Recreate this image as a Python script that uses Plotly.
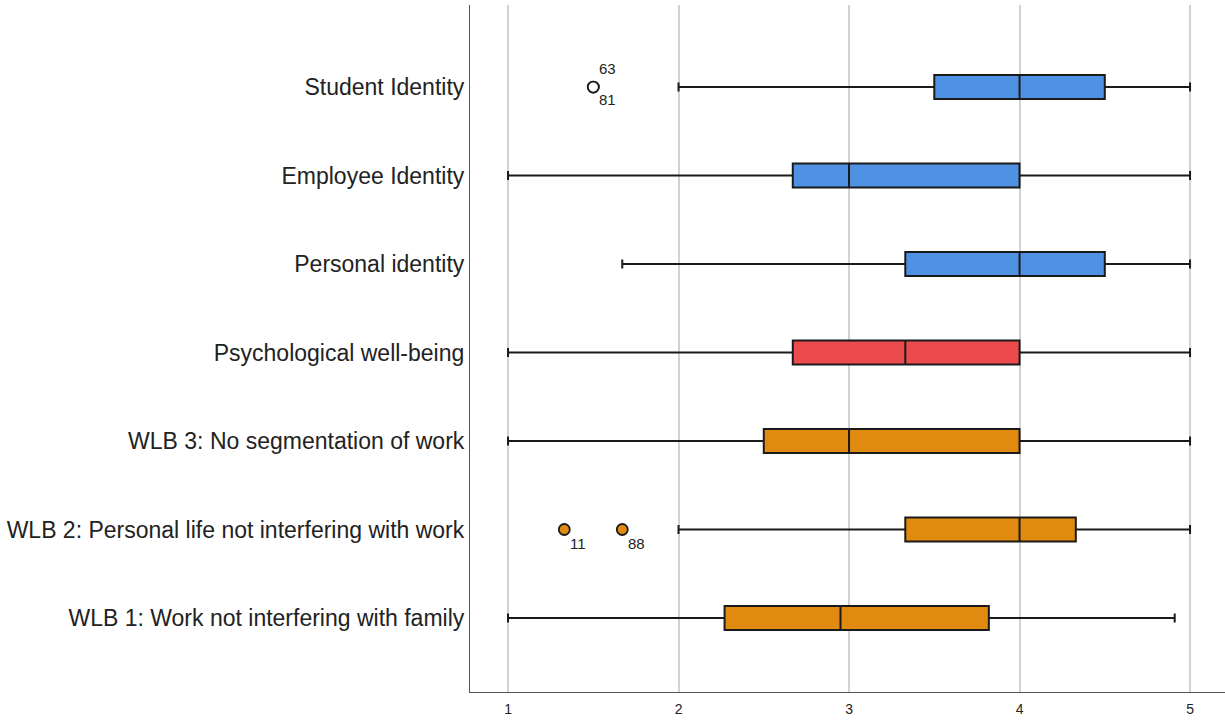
import plotly.graph_objects as go

categories = [
    "WLB 1: Work not interfering with family",
    "WLB 2: Personal life not interfering with work",
    "WLB 3: No segmentation of work",
    "Psychological well-being",
    "Personal identity",
    "Employee Identity",
    "Student Identity",
]
lower = [1.0, 2.0, 1.0, 1.0, 1.67, 1.0, 2.0]
q1 = [2.27, 3.33, 2.5, 2.67, 3.33, 2.67, 3.5]
median = [2.95, 4.0, 3.0, 3.33, 4.0, 3.0, 4.0]
q3 = [3.82, 4.33, 4.0, 4.0, 4.5, 4.0, 4.5]
upper = [4.91, 5.0, 5.0, 5.0, 5.0, 5.0, 5.0]
colors = ["#E08B10", "#E08B10", "#E08B10", "#EB4B4C", "#4F92E4", "#4F92E4", "#4F92E4"]

# outliers: category, value, case label
outlier_cat = ["Student Identity", "Student Identity",
               "WLB 2: Personal life not interfering with work",
               "WLB 2: Personal life not interfering with work"]
outlier_val = [1.5, 1.5, 1.33, 1.67]
outlier_lab = ["63", "81", "11", "88"]
outlier_dy = [19, -12, -14, -14]
outlier_fill = ["white", "white", "#E08B10", "#E08B10"]

tick_vals = [1, 2, 3, 4, 5]

fig = go.Figure()
for i, c in enumerate(categories):
    fig.add_trace(go.Box(
        y=[c], q1=[q1[i]], median=[median[i]], q3=[q3[i]],
        lowerfence=[lower[i]], upperfence=[upper[i]],
        orientation="h", fillcolor=colors[i],
        line=dict(color="#1a1a1a", width=2),
        width=0.27, whiskerwidth=0.38, boxpoints=False,
        showlegend=False,
    ))

fig.add_trace(go.Scatter(
    x=outlier_val, y=outlier_cat, mode="markers",
    marker=dict(size=11, color=outlier_fill, line=dict(color="#1a1a1a", width=1.8)),
    showlegend=False,
))

for v, c, lab, dy in zip(outlier_val, outlier_cat, outlier_lab, outlier_dy):
    fig.add_annotation(x=v, y=c, text=lab, showarrow=False,
                       xshift=14, yshift=dy,
                       font=dict(size=15, color="#222", family="Liberation Sans, Arial"))

fig.update_layout(
    width=1225, height=721,
    margin=dict(l=470, r=0, t=5, b=29),
    plot_bgcolor="white", paper_bgcolor="white",
    font=dict(family="Liberation Sans, Arial", color="#222"),
)
fig.update_xaxes(
    range=[0.777, 5.205], tickvals=tick_vals, ticktext=[str(t) for t in tick_vals],
    showgrid=True, gridcolor="#d2d2d2", gridwidth=1.5,
    showline=True, linecolor="#555", linewidth=1.2, zeroline=False,
    tickfont=dict(size=14, color="#222"), ticks="", ticklabelstandoff=4,
)
fig.update_yaxes(
    type="category", categoryorder="array", categoryarray=categories,
    range=[-0.836, 6.927], showgrid=False,
    showline=True, linecolor="#555", linewidth=1.2, zeroline=False,
    tickfont=dict(size=23, color="#222"), ticks="",
)

fig.write_html("out.html")
